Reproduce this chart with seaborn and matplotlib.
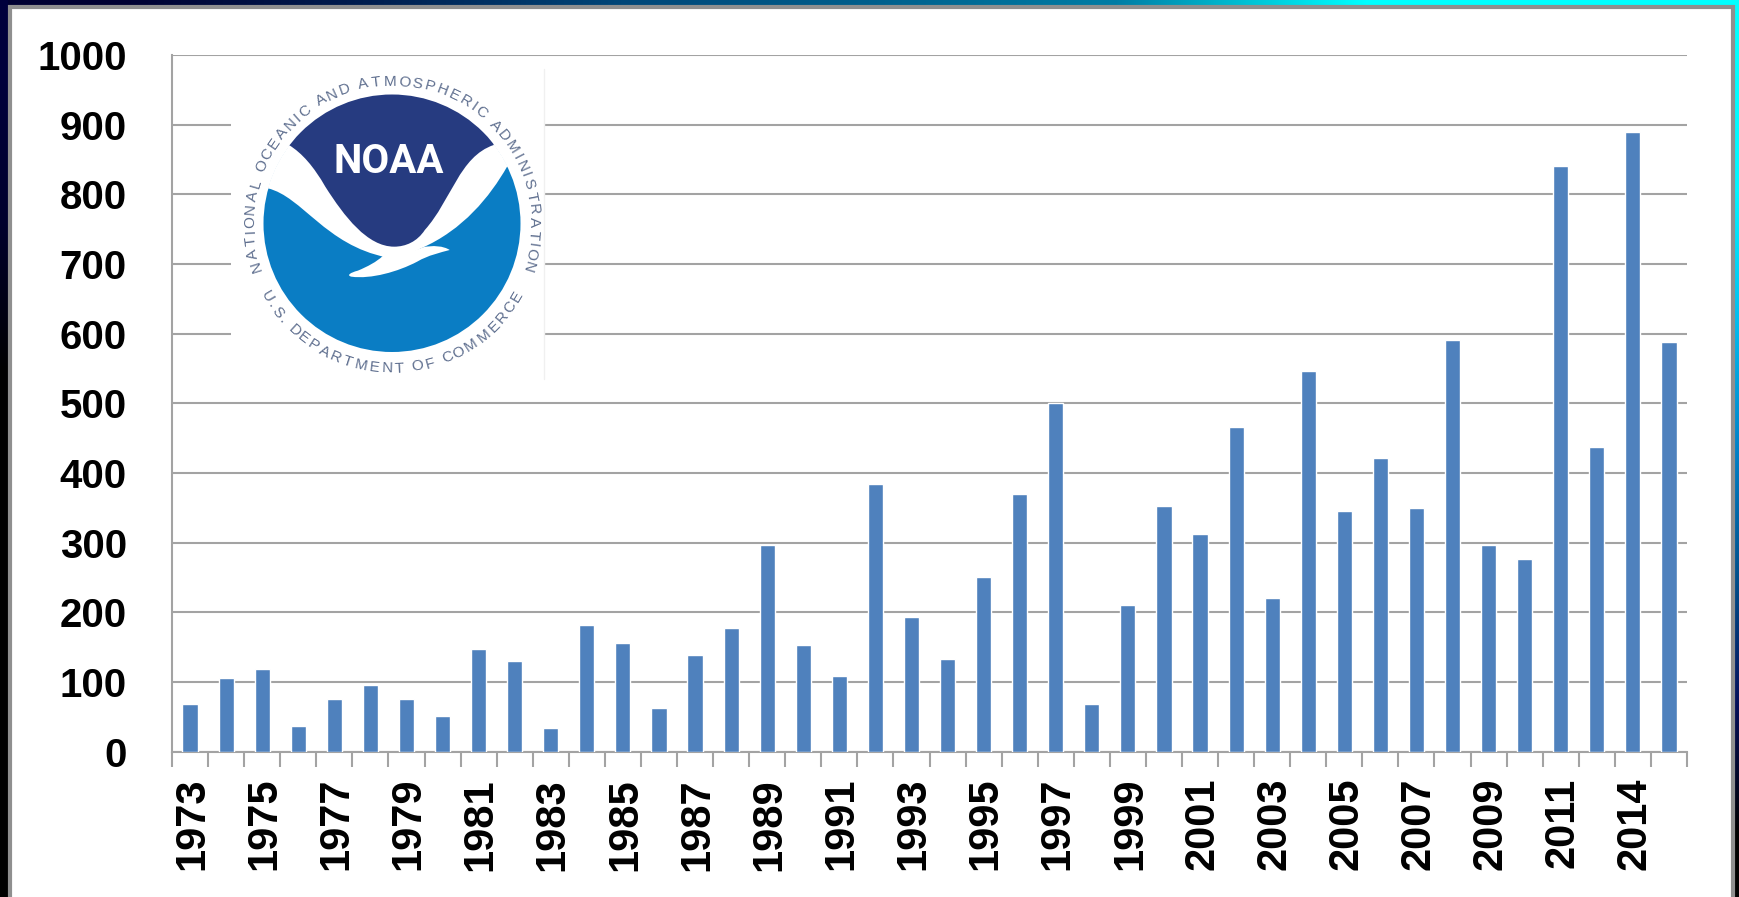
import numpy as np
import matplotlib
matplotlib.use('Agg')
import matplotlib.pyplot as plt
import seaborn as sns
from matplotlib.patches import Circle, PathPatch, Rectangle
from matplotlib.path import Path
from matplotlib.transforms import ScaledTranslation

years = [str(y) for y in range(1973, 2012)] + ['2013', '2014', '2015']
counts = [68, 105, 119, 36, 76, 96, 76, 51, 147, 130, 34, 181, 156, 62,
          139, 178, 296, 153, 108, 384, 193, 133, 250, 369, 501, 68, 210,
          352, 312, 466, 221, 546, 346, 421, 349, 591, 296, 276, 841, 437,
          890, 588]
y_ticks = list(range(0, 1001, 100))

W, H = 1739, 897
BAR = '#4f81bd'
GREY = '#a3a3a3'
RING = '#5f6f8f'

sns.set_theme(style='white')
plt.rcParams['font.family'] = ['Liberation Sans', 'DejaVu Sans']

fig = plt.figure(figsize=(W / 100, H / 100), dpi=100, facecolor='white')

# backdrop, panel border and the logo all live in pixel coordinates
bg = fig.add_axes([0, 0, 1, 1], zorder=0)
bg.set_xlim(0, W)
bg.set_ylim(H, 0)
bg.axis('off')

top_strip = np.array([[[0, 0, 50], [0, 30, 80], [0, 70, 120], [0, 95, 140],
                       [0, 125, 165], [0, 255, 255], [0, 255, 255]]]) / 255
bg.imshow(top_strip, extent=(0, W, 8, 0), aspect='auto', interpolation='bilinear')
right_strip = np.array([[[0, 255, 255]], [[0, 245, 255]], [[0, 190, 240]],
                        [[0, 130, 200]], [[0, 80, 140]], [[5, 15, 90]],
                        [[0, 0, 0]]]) / 255
bg.imshow(right_strip, extent=(1735, W, H, 0), aspect='auto', interpolation='bilinear')
left_strip = np.array([[[0, 0, 60]], [[0, 0, 45]], [[0, 0, 0]], [[0, 0, 0]],
                       [[0, 0, 0]], [[0, 0, 0]]]) / 255
bg.imshow(left_strip, extent=(0, 8, H, 0), aspect='auto', interpolation='bilinear')
bg.set_xlim(0, W)
bg.set_ylim(H, 0)
bg.add_patch(Rectangle((10, 7.5), 1723, H, fc='white', ec='#8f8f8f', lw=3))

ax = fig.add_axes([172 / W, 1 - 751.5 / H, (1687 - 172) / W, (751.5 - 55) / H],
                  zorder=1, facecolor='none')
sns.barplot(x=years, y=counts, color=BAR, width=0.42, saturation=1, ax=ax, zorder=3)
ax.set_xlim(-0.5, len(years) - 0.5)
ax.set_ylim(0, 1000)
ax.set_yticks(y_ticks)
ax.set_xticks(range(0, len(years), 2))
ax.set_xticklabels(years[::2], rotation=90)
ax.set_xticks(np.arange(len(years) + 1) - 0.5, minor=True)

ax.grid(axis='y', color=GREY, lw=1.5, zorder=1)
ax.set_axisbelow(True)
for side in ['top', 'right']:
    ax.spines[side].set_visible(False)
for side in ['left', 'bottom']:
    ax.spines[side].set_color(GREY)
    ax.spines[side].set_linewidth(1.5)
ax.tick_params(axis='y', length=11.5, width=1.5, color=GREY, pad=21,
               labelsize=29, labelcolor='black')
ax.tick_params(axis='x', which='minor', length=11, width=1.5, color=GREY, bottom=True)
ax.tick_params(axis='x', which='major', length=0, pad=19,
               labelsize=30, labelcolor='black')
nudge = ScaledTranslation(2 / 100, 0, fig.dpi_scale_trans)
for lab in ax.get_xticklabels():
    lab.set_fontweight('bold')
    lab.set_transform(lab.get_transform() + nudge)
for lab in ax.get_yticklabels():
    lab.set_fontweight('bold')

# logo
lg = fig.add_axes([0, 0, 1, 1], zorder=2, facecolor='none')
lg.set_xlim(0, W)
lg.set_ylim(H, 0)
lg.axis('off')
lg.add_patch(Rectangle((231, 69), 313, 310, fc='white', ec='none'))
lg.plot([544, 544], [69, 379], color='#f0f0f0', lw=1)

cx, cy, r = 392, 223.5, 128.5
lg.add_patch(Circle((cx, cy), r, fc='#0a7dc4', ec='none'))

M, L, C = Path.MOVETO, Path.LINETO, Path.CURVE4


def shape(steps, fc, clip=True):
    # steps as picked off the zoomed crop, converted to full size pixels
    verts, codes = [], []
    for code, *pts in steps:
        for x, y in pts:
            verts.append((x / 2.613, y / 3))
            codes.append(code)
    patch = PathPatch(Path(verts, codes), fc=fc, ec='none')
    lg.add_patch(patch)
    if clip:
        patch.set_clip_path(Circle((cx, cy), r + 0.5, transform=lg.transData))


shape([(M, (640, 565)), (L, (700, 565)),
       (C, (790, 590), (850, 735), (1010, 772)),
       (C, (1050, 770), (1075, 760), (1100, 745)),
       (C, (1210, 690), (1280, 590), (1325, 500)),
       (L, (1400, 500)), (L, (1400, 250)), (L, (640, 250)), (L, (640, 565))], 'white')

shape([(M, (755, 435)), (L, (755, 250)), (L, (1290, 250)), (L, (1290, 435)),
       (C, (1200, 470), (1180, 600), (1110, 690)),
       (C, (1090, 725), (1060, 740), (1030, 740)),
       (C, (960, 740), (900, 650), (850, 560)),
       (C, (820, 500), (790, 460), (755, 435))], '#263b80')

shape([(M, (1000, 768)), (C, (1050, 765), (1090, 750), (1105, 742)),
       (C, (1130, 735), (1160, 738), (1175, 750)),
       (C, (1150, 758), (1120, 765), (1090, 785)),
       (C, (1040, 815), (970, 838), (918, 830)),
       (C, (905, 826), (915, 818), (935, 812)),
       (C, (960, 800), (985, 785), (1000, 768))], 'white', clip=False)

lg.text(388.5, 162, 'NOAA', color='white', ha='center', va='center',
        family='Roboto', fontweight='bold', fontsize=29)


def ring_text(s, start, end, radius, bottom=False):
    # one text per letter around the seal, narrow letters get less of the arc
    w = np.array([0.5 if c in 'I .' else 1.3 if c in 'MW' else 1.0 for c in s])
    pos = np.cumsum(w) - w / 2
    angles = start + (end - start) * pos / w.sum()
    for c, a in zip(s, angles):
        t = np.radians(a)
        if bottom:
            x, y = cx + radius * np.sin(t), cy + radius * np.cos(t)
            rot = a
        else:
            x, y = cx + radius * np.sin(t), cy - radius * np.cos(t)
            rot = -a
        lg.text(x, y, c, color=RING, fontsize=11, ha='center', va='center',
                rotation=rot, rotation_mode='anchor')


ring_text('NATIONAL OCEANIC AND ATMOSPHERIC ADMINISTRATION', -110, 110, 142)
ring_text('U.S. DEPARTMENT OF COMMERCE', -62, 62, 145, bottom=True)

fig.savefig('out.png', dpi=100)
